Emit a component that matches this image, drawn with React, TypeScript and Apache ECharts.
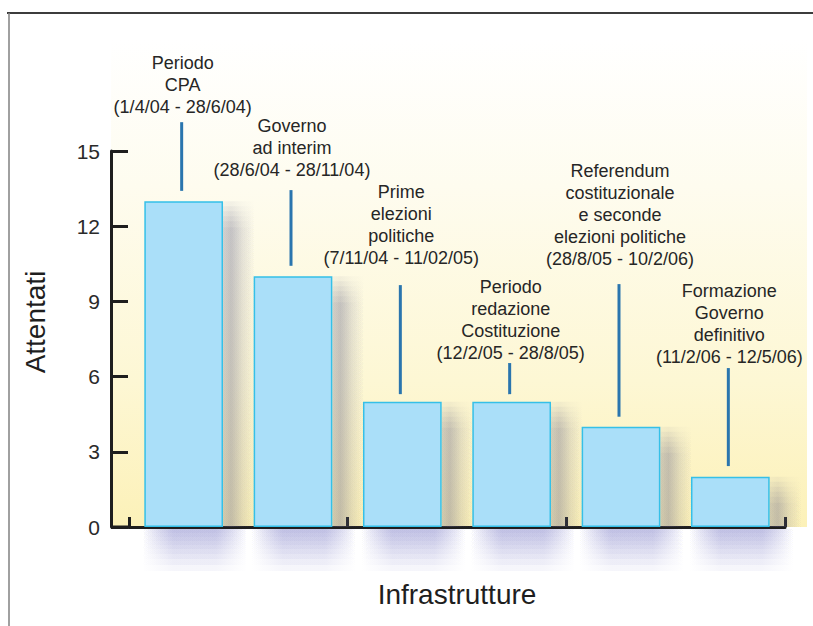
import { useEffect, useRef } from "react";
import * as echarts from "echarts";

// Periods (category names, shown as annotations above each bar)
const periods: string[] = [
  "Periodo\nCPA\n(1/4/04 - 28/6/04)",
  "Governo\nad interim\n(28/6/04 - 28/11/04)",
  "Prime\nelezioni\npolitiche\n(7/11/04 - 11/02/05)",
  "Periodo\nredazione\nCostituzione\n(12/2/05 - 28/8/05)",
  "Referendum\ncostituzionale\ne seconde\nelezioni politiche\n(28/8/05 - 10/2/06)",
  "Formazione\nGoverno\ndefinitivo\n(11/2/06 - 12/5/06)",
];

// Number of attacks on infrastructure per period
const attacks: number[] = [13, 10, 5, 5, 4, 2];

// Leader lines (in axis values) and label baselines
const leaderBottom: number[] = [13.41, 10.42, 5.3, 5.3, 4.4, 2.43];
const leaderTop: number[] = [16.15, 13.44, 9.65, 6.54, 9.69, 6.34];
const labelBase: number[] = [16.31, 13.8, 10.29, 6.5, 10.25, 6.34];

const yMin = 0;
const yMax = 15;
const yStep = 3;

const xTitle = "Infrastrutture";
const yTitle = "Attentati";

const FONT = "'Liberation Sans', Arial, Helvetica, sans-serif";

const hFade = (a: number) =>
  new echarts.graphic.LinearGradient(0, 0, 1, 0, [
    { offset: 0, color: "rgba(140,140,205,0)" },
    { offset: 0.3, color: `rgba(140,140,205,${a})` },
    { offset: 0.7, color: `rgba(140,140,205,${a})` },
    { offset: 1, color: "rgba(140,140,205,0)" },
  ]);

const sideShadow = (a: number) =>
  new echarts.graphic.LinearGradient(0, 0, 1, 0, [
    { offset: 0, color: `rgba(100,100,135,${a * 0.7})` },
    { offset: 0.25, color: `rgba(100,100,135,${a})` },
    { offset: 0.6, color: `rgba(100,100,135,${a * 0.4})` },
    { offset: 1, color: "rgba(100,100,135,0)" },
  ]);

export default function App() {
  const ref = useRef<HTMLDivElement>(null);

  useEffect(() => {
    if (!ref.current) return;
    const chart = echarts.init(ref.current, null, { renderer: "svg" });

    chart.setOption({
      animation: false,
      backgroundColor: "#ffffff",
      grid: { left: 129, right: 28, top: 151, bottom: 99 },
      graphic: [
        {
          type: "rect",
          z: -10,
          silent: true,
          shape: { x: 111, y: 40, width: 696, height: 487 },
          style: {
            fill: new echarts.graphic.LinearGradient(0, 0, 0, 1, [
              { offset: 0, color: "#ffffff" },
              { offset: 0.3, color: "#fefcef" },
              { offset: 0.7, color: "#fdf7d4" },
              { offset: 1, color: "#fcf1b8" },
            ]),
          },
        },
        {
          type: "line",
          silent: true,
          shape: { x1: 7, y1: 13, x2: 813, y2: 13 },
          style: { stroke: "#3c3c3c", lineWidth: 2 },
        },
        {
          type: "line",
          silent: true,
          shape: { x1: 9, y1: 13, x2: 9, y2: 626 },
          style: { stroke: "#808080", lineWidth: 1.5 },
        },
        {
          type: "line",
          silent: true,
          z: 1,
          shape: { x1: 111, y1: 527, x2: 130, y2: 527 },
          style: { stroke: "#1e1e1e", lineWidth: 3 },
        },
        {
          type: "text",
          silent: true,
          x: 35,
          y: 322,
          rotation: Math.PI / 2,
          style: {
            text: yTitle,
            align: "center",
            verticalAlign: "middle",
            fontSize: 28,
            fontFamily: FONT,
            fill: "#1e1e1e",
          },
        },
      ],
      xAxis: {
        type: "category",
        data: periods,
        boundaryGap: true,
        name: xTitle,
        nameLocation: "middle",
        nameGap: 53,
        nameTextStyle: { fontSize: 28, fontFamily: FONT, color: "#1e1e1e" },
        axisLine: { show: true, lineStyle: { color: "#1e1e1e", width: 3 } },
        axisTick: {
          show: true,
          inside: true,
          length: 10,
          alignWithLabel: false,
          lineStyle: { color: "#1e1e1e", width: 3 },
        },
        axisLabel: { show: false },
        splitLine: { show: false },
      },
      yAxis: {
        type: "value",
        min: yMin,
        max: yMax,
        interval: yStep,
        offset: 18,
        axisLine: { show: true, lineStyle: { color: "#1e1e1e", width: 3 } },
        axisTick: {
          show: true,
          inside: true,
          length: 17,
          lineStyle: { color: "#1e1e1e", width: 3 },
        },
        axisLabel: {
          margin: 11,
          fontSize: 21,
          fontFamily: FONT,
          color: "#2a2a2a",
        },
        splitLine: { show: false },
      },
      series: [
        {
          type: "custom",
          name: "shadows",
          z: 1,
          clip: false,
          silent: true,
          data: attacks.map((v, i) => [i, v]),
          renderItem: (_params: any, api: any) => {
            const i = api.value(0);
            const base = api.coord([i, 0]);
            const top = api.coord([i, api.value(1)]);
            const w = api.size([1, 0])[0] * 0.72;
            const x0 = base[0] - w / 2 - 2;
            const width = w + 26;
            const layers = [4, 8, 12, 16, 20, 25, 30, 36, 42];
            const children: any[] = layers.map((h) => ({
              type: "rect",
              shape: { x: x0, y: base[1] + 2, width, height: h },
              style: { fill: hFade(0.08) },
            }));
            const steps = [0, 5, 10, 15, 20, 26];
            steps.forEach((s) => {
              const y0 = top[1] + s;
              if (y0 < base[1]) {
                children.push({
                  type: "rect",
                  shape: { x: base[0] + w / 2, y: y0, width: 32, height: base[1] - y0 },
                  style: { fill: sideShadow(0.075) },
                });
              }
            });
            return { type: "group", children };
          },
        },
        {
          type: "bar",
          name: "Attentati",
          data: attacks,
          barWidth: "72%",
          z: 2,
          itemStyle: {
            color: "#aadff9",
            borderColor: "#35c0e8",
            borderWidth: 1.5,
          },
        },
        {
          type: "custom",
          name: "periods",
          z: 3,
          clip: false,
          silent: true,
          data: periods.map((_p, i) => [i, leaderBottom[i], leaderTop[i], labelBase[i]]),
          renderItem: (_params: any, api: any) => {
            const i = api.value(0);
            const p0 = api.coord([i, api.value(1)]);
            const p1 = api.coord([i, api.value(2)]);
            const p2 = api.coord([i, api.value(3)]);
            return {
              type: "group",
              children: [
                {
                  type: "line",
                  shape: { x1: p0[0] - 2, y1: p0[1], x2: p1[0] - 2, y2: p1[1] },
                  style: { stroke: "#2a75ae", lineWidth: 3 },
                },
                {
                  type: "text",
                  x: p2[0] - 1,
                  y: p2[1],
                  style: {
                    text: periods[i],
                    align: "center",
                    verticalAlign: "bottom",
                    fontSize: 18,
                    lineHeight: 22,
                    fontFamily: FONT,
                    fill: "#262626",
                  },
                },
              ],
            };
          },
        },
      ],
    });

    return () => chart.dispose();
  }, []);

  return (
    <div
      ref={ref}
      style={{ position: "absolute", left: 0, top: 0, width: 813, height: 626 }}
    />
  );
}
